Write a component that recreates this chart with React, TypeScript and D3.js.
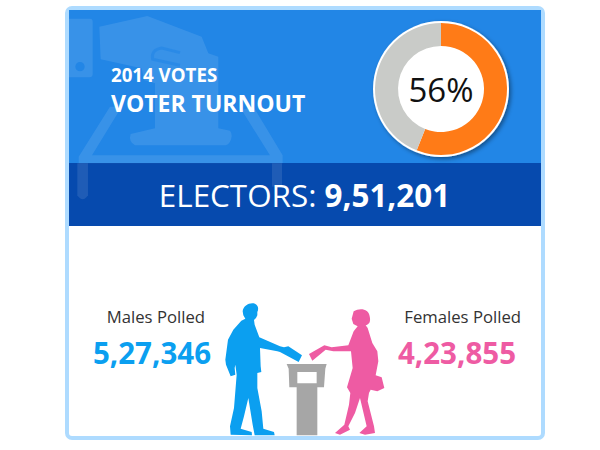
import * as d3 from 'd3';

const sliceNames = ['Polled', 'Not polled'];
const sliceValues = [56, 44];
const sliceColors = ['#ff7b17', '#c9cbc8'];
const centerLabel = '56%';

const electorsLabel = 'ELECTORS:';
const electorsValue = '9,51,201';
const groupLabels = ['Males Polled', 'Females Polled'];
const groupValues = ['5,27,346', '4,23,855'];
const groupColors = ['#0b9ff0', '#ee5ba3'];

const font = '"Open Sans", sans-serif';

const manPath =
  'M68,40 C70,22 90,12 105,17 C116,22 116,35 112,42 L112,52 L108,60 L102,66 L104,80 L118,118 L180,145 L192,148 L205,145 L246,172 L236,192 L180,162 L172,160 L120,150 L122,205 L124,222 L112,225 L112,270 L125,340 L130,392 L162,402 L164,412 L104,412 L98,380 L85,300 L72,355 L62,392 L95,402 L96,412 L32,410 L30,385 L42,330 L50,230 L46,200 L44,210 L46,230 L32,235 L18,200 L16,185 L24,125 L40,95 L64,68 L76,62 L70,52 Z';

const womanPath =
  'M146,40 C165,28 192,33 194,55 C198,72 192,80 182,82 L188,90 L202,135 L217,160 L220,190 L212,232 L230,238 L238,270 L217,280 L197,275 L192,285 L188,310 L207,385 L210,405 L180,410 L163,405 L185,385 L165,300 L150,345 L130,385 L135,395 L105,410 L90,405 L118,380 L132,320 L136,285 L126,268 L143,210 L138,160 L125,160 L85,160 L62,155 L22,188 L12,168 L58,142 L80,148 L130,142 L146,100 L158,85 L152,82 L145,78 L140,62 Z';

const podiumPath =
  'M260,222 L380,222 L376,236 L372,292 L352,292 L352,436 L290,436 L290,292 L268,292 L266,236 Z M292,246 L292,280 L350,280 L350,246 Z';

const watermarkPaths = [
  // cuff and hand
  'M0,56 L90,56 Q98,56 98,66 L98,222 Q98,232 88,232 L0,232 Z M60,186 A14,14 0 1 0 60,214 A14,14 0 1 0 60,186 Z',
  'M118,80 L262,48 L425,110 L445,160 L475,170 L475,385 L510,392 Q520,405 510,425 Q505,436 490,436 L225,436 Q205,425 212,402 L285,385 L285,250 L252,240 L245,205 L122,178 Z',
  // box outline
  'M150,320 L185,320 L96,466 L630,466 L545,330 L580,320 L668,466 L668,490 L56,490 L56,470 Z',
  'M52,490 L84,490 L84,586 Q68,610 52,586 Z',
  'M636,490 L666,490 L666,560 L636,560 Z',
];
const thumbPath = 'M360,158 L305,144 Q272,150 278,178 L360,196';

export default function App() {
  const pie = d3.pie<number>().sort(null)(sliceValues);
  const arc = d3.arc<d3.PieArcDatum<number>>().innerRadius(43).outerRadius(66);

  return (
    <svg
      width={600}
      height={450}
      style={{ position: 'absolute', left: 0, top: 0, background: '#fff' }}
      fontFamily={font}
    >
      <defs>
        <filter id="shadow" x="-20%" y="-20%" width="140%" height="140%">
          <feDropShadow dx="2" dy="2" stdDeviation="2" floodColor="#000" floodOpacity="0.4" />
        </filter>
        <clipPath id="head">
          <rect x={69} y={10} width={472} height={216} />
        </clipPath>
      </defs>

      <rect x={67} y={8} width={476} height={430} rx={5} fill="#fff" stroke="#aedbff" strokeWidth={4} />
      <rect x={69} y={10} width={472} height={153} fill="#2286e6" />
      <rect x={69} y={163} width={472} height={63} fill="#064aae" />

      <g clipPath="url(#head)">
        <g transform="translate(60,0) scale(0.3333)">
          <g fill="#fff" fillOpacity={0.1} fillRule="evenodd">
            {watermarkPaths.map((d, i) => (
              <path key={i} d={d} />
            ))}
          </g>
          <path d={thumbPath} fill="none" stroke="#2286e6" strokeOpacity={0.6} strokeWidth={9} />
        </g>
      </g>

      <text x={111} y={82} fontSize={18.7} fontWeight={700} fill="#fff">2014 VOTES</text>
      <text x={111} y={112} fontSize={23} fontWeight={700} fill="#fff">VOTER TURNOUT</text>

      <g transform="translate(441,89)">
        <circle r={68} fill="#fff" filter="url(#shadow)" />
        {pie.map((s, i) => (
          <path key={sliceNames[i]} d={arc(s) ?? ''} fill={sliceColors[i]} />
        ))}
        <text y={13} textAnchor="middle" fontSize={33} fill="#111">{centerLabel}</text>
      </g>

      <text x={304.5} y={207} textAnchor="middle" fontSize={31.4} fill="#fff">
        {electorsLabel} <tspan fontWeight={700}>{electorsValue}</tspan>
      </text>

      <text x={205} y={323} textAnchor="end" fontSize={16.7} fill="#333">{groupLabels[0]}</text>
      <text x={211} y={364} textAnchor="end" fontSize={29.5} fontWeight={700} fill={groupColors[0]}>{groupValues[0]}</text>
      <text x={521} y={323} textAnchor="end" fontSize={16.7} fill="#333">{groupLabels[1]}</text>
      <text x={516} y={364} textAnchor="end" fontSize={29.5} fontWeight={700} fill={groupColors[1]}>{groupValues[1]}</text>

      <g transform="translate(200,290) scale(0.3333)">
        <path d={podiumPath} fill="#a6a6a6" fillRule="evenodd" />
      </g>
      <g transform="translate(220,298) scale(0.3333)">
        <path d={manPath} fill={groupColors[0]} />
      </g>
      <g transform="translate(305,298) scale(0.3333)">
        <path d={womanPath} fill={groupColors[1]} />
      </g>
    </svg>
  );
}
